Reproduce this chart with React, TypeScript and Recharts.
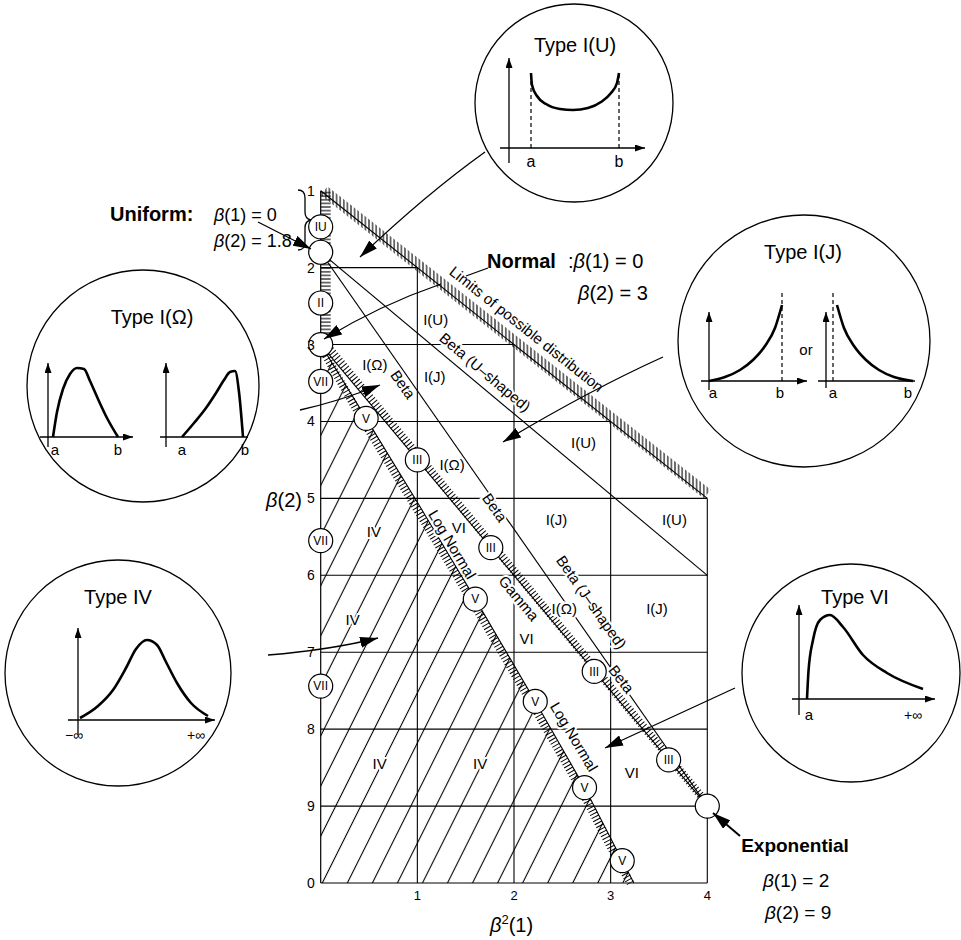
import React from 'react'
import {
  ComposedChart,
  LineChart,
  Line,
  Area,
  Scatter,
  XAxis,
  YAxis,
  ReferenceLine,
} from 'recharts'

const FONT = '"Liberation Sans", Arial, Helvetica, sans-serif'
const INK = '#000'

// β(2) runs 1..10 downwards, the last tick is printed as "0"
const yTicks = [1, 2, 3, 4, 5, 6, 7, 8, 9, 10]
const yTickLabels = ['1', '2', '3', '4', '5', '6', '7', '8', '9', '0']
const xTicks = [1, 2, 3, 4]
const gridRows = [2, 3, 4, 5, 6, 7, 8, 9]
const gridCols = [1, 2, 3, 4]

// boundary / transition lines in (β²(1), β(2))
const limitLine = [{ x: 0, y: 1 }, { x: 4, y: 5 }]
const uniformSpan = [{ x: 0, y: 1 }, { x: 0, y: 3 }]
const betaUShaped = [{ x: 0, y: 1.8 }, { x: 4, y: 6 }]
const betaJShaped = [{ x: 0, y: 1.8 }, { x: 4, y: 9 }]
const gammaLine = [{ x: 0, y: 3 }, { x: 4, y: 9 }]
const typeVLine = [
  { x: 0, y: 3 },
  { x: 0.47, y: 3.96 },
  { x: 1.0, y: 5.05 },
  { x: 1.6, y: 6.31 },
  { x: 2.22, y: 7.64 },
  { x: 2.73, y: 8.76 },
  { x: 3.12, y: 9.71 },
  { x: 3.24, y: 10 },
]

// named points on the axis and on the curves
const axisPoints = [
  { x: 0, y: 1.47, label: 'IU' },
  { x: 0, y: 1.8, label: '' },
  { x: 0, y: 2.46, label: 'II' },
  { x: 0, y: 3, label: '' },
]
const typeVIIPoints = [
  { x: 0, y: 3.48, label: 'VII' },
  { x: 0, y: 5.55, label: 'VII' },
  { x: 0, y: 7.44, label: 'VII' },
]
const typeVPoints = [
  { x: 0.47, y: 3.96, label: 'V' },
  { x: 1.6, y: 6.31, label: 'V' },
  { x: 2.22, y: 7.64, label: 'V' },
  { x: 2.73, y: 8.76, label: 'V' },
  { x: 3.12, y: 9.71, label: 'V' },
]
const typeIIIPoints = [
  { x: 1.0, y: 4.5, label: 'III' },
  { x: 1.76, y: 5.64, label: 'III' },
  { x: 2.83, y: 7.25, label: 'III' },
  { x: 3.6, y: 8.4, label: 'III' },
]
const exponentialPoint = [{ x: 4, y: 9, label: '' }]

const regionLabels = [
  { x: 1.19, y: 2.68, text: 'I(U)' },
  { x: 0.56, y: 3.26, text: 'I(Ω)' },
  { x: 1.18, y: 3.42, text: 'I(J)' },
  { x: 1.36, y: 4.56, text: 'I(Ω)' },
  { x: 2.72, y: 4.28, text: 'I(U)' },
  { x: 2.44, y: 5.28, text: 'I(J)' },
  { x: 3.66, y: 5.28, text: 'I(U)' },
  { x: 2.52, y: 6.44, text: 'I(Ω)' },
  { x: 3.48, y: 6.44, text: 'I(J)' },
  { x: 1.43, y: 5.38, text: 'VI' },
  { x: 2.13, y: 6.82, text: 'VI' },
  { x: 3.22, y: 8.57, text: 'VI' },
  { x: 0.55, y: 5.43, text: 'IV' },
  { x: 0.33, y: 6.58, text: 'IV' },
  { x: 0.61, y: 8.45, text: 'IV' },
  { x: 1.65, y: 8.45, text: 'IV' },
]

const lineLabels = [
  { x: 2.13, y: 2.8, text: 'Limits of possible distribution', angle: 38.5 },
  { x: 1.7, y: 3.36, text: 'Beta (U–shaped)', angle: 40 },
  { x: 0.85, y: 3.52, text: 'Beta', angle: 55 },
  { x: 1.8, y: 5.12, text: 'Beta', angle: 55 },
  { x: 2.8, y: 6.35, text: 'Beta (J–shaped)', angle: 55 },
  { x: 3.11, y: 7.35, text: 'Beta', angle: 52 },
  { x: 2.05, y: 6.3, text: 'Gamma', angle: 50 },
  { x: 1.36, y: 5.6, text: 'Log Normal', angle: 59 },
  { x: 2.62, y: 8.1, text: 'Log Normal', angle: 59 },
]

// small density sketches, axis crossing at (0,0)
const uCurve = [
  { x: 2.2, y: 7.5 }, { x: 2.3, y: 6.3 }, { x: 2.8, y: 5.2 }, { x: 3.7, y: 4.4 },
  { x: 5.1, y: 3.9 }, { x: 6.4, y: 3.8 }, { x: 7.9, y: 4.0 }, { x: 9.2, y: 4.6 },
  { x: 10.2, y: 5.5 }, { x: 10.8, y: 6.5 }, { x: 11.0, y: 7.5 },
]
const jRising = [
  { x: 0, y: 0 }, { x: 1.6, y: 0.4 }, { x: 3.1, y: 1.1 }, { x: 4.4, y: 2.1 },
  { x: 5.6, y: 3.5 }, { x: 6.6, y: 5.3 }, { x: 7.3, y: 7.6 },
]
const jFalling = [
  { x: 1.1, y: 7.6 }, { x: 1.8, y: 5.3 }, { x: 2.8, y: 3.5 }, { x: 4.0, y: 2.1 },
  { x: 5.3, y: 1.1 }, { x: 6.8, y: 0.4 }, { x: 8.7, y: 0 },
]
const omegaLeft = [
  { x: 0.5, y: 0 }, { x: 0.9, y: 2.5 }, { x: 1.5, y: 4.8 }, { x: 2.2, y: 6.3 },
  { x: 2.9, y: 6.9 }, { x: 3.6, y: 6.8 }, { x: 4.2, y: 5.6 }, { x: 5.0, y: 3.8 },
  { x: 5.9, y: 1.9 }, { x: 7.0, y: 0 },
]
const omegaRight = [
  { x: 1.6, y: 0 }, { x: 2.8, y: 1.4 }, { x: 4.0, y: 2.9 }, { x: 5.0, y: 4.4 },
  { x: 5.8, y: 5.7 }, { x: 6.4, y: 6.5 }, { x: 6.9, y: 6.6 }, { x: 7.3, y: 4.5 },
  { x: 7.7, y: 0 },
]
const bellCurve = [
  { x: 0.2, y: 0.2 }, { x: 2, y: 1.4 }, { x: 3.5, y: 3.0 }, { x: 4.8, y: 5.2 },
  { x: 5.8, y: 7.1 }, { x: 6.9, y: 8.0 }, { x: 7.9, y: 7.5 }, { x: 8.8, y: 5.8 },
  { x: 9.9, y: 3.7 }, { x: 11.3, y: 1.7 }, { x: 13.0, y: 0.4 },
]
const skewCurve = [
  { x: 0.8, y: 0 }, { x: 0.95, y: 2.8 }, { x: 1.4, y: 5.9 }, { x: 2.1, y: 7.9 },
  { x: 3.1, y: 8.4 }, { x: 4.4, y: 7.2 }, { x: 6.4, y: 4.4 }, { x: 8.8, y: 2.6 },
  { x: 12.4, y: 1.0 },
]

type Pt = { x: number; y: number }
type Plot = {
  ox: number
  oy: number
  xAxis: [number, number]
  yAxis: [number, number]
  xArrow: boolean
  curve: Pt[]
  guides: number[]
  guideTop: number
}

const insetPlots: Plot[] = [
  { ox: 509, oy: 148, xAxis: [-0.9, 13.6], yAxis: [-1.5, 9.0], xArrow: true, curve: uCurve, guides: [2.2, 11.0], guideTop: 7.5 },
  { ox: 709, oy: 381, xAxis: [-0.8, 9.8], yAxis: [-0.9, 6.9], xArrow: true, curve: jRising, guides: [7.3], guideTop: 9.1 },
  { ox: 826, oy: 381, xAxis: [-0.8, 8.9], yAxis: [-0.7, 6.9], xArrow: false, curve: jFalling, guides: [0.7], guideTop: 9.1 },
  { ox: 48, oy: 437, xAxis: [-0.8, 8.5], yAxis: [-1.0, 7.4], xArrow: true, curve: omegaLeft, guides: [], guideTop: 0 },
  { ox: 166, oy: 437, xAxis: [-0.6, 8.2], yAxis: [-1.0, 7.4], xArrow: false, curve: omegaRight, guides: [], guideTop: 0 },
  { ox: 78, oy: 720, xAxis: [-1.0, 13.7], yAxis: [-1.5, 9.2], xArrow: true, curve: bellCurve, guides: [], guideTop: 0 },
  { ox: 799, oy: 699, xAxis: [-0.7, 13.6], yAxis: [-1.6, 9.4], xArrow: true, curve: skewCurve, guides: [], guideTop: 0 },
]

const insetCircles = [
  { cx: 574, cy: 103, r: 99 },
  { cx: 804, cy: 341, r: 126 },
  { cx: 143, cy: 386, r: 116 },
  { cx: 118, cy: 673, r: 113 },
  { cx: 851, cy: 673, r: 109 },
]

const UNIT = 10 // px per sketch unit

function MiniPlot({ plot }: { plot: Plot }) {
  const xMin = plot.xAxis[0] - 0.3
  const xMax = plot.xAxis[1] + 0.3
  const yMin = plot.yAxis[0] - 0.3
  const yMax = Math.max(plot.yAxis[1], plot.guideTop, ...plot.curve.map((p) => p.y)) + 0.4
  const left = plot.ox + xMin * UNIT
  const top = plot.oy - yMax * UNIT
  const width = (xMax - xMin) * UNIT
  const height = (yMax - yMin) * UNIT
  return (
    <div style={{ position: 'absolute', left, top }}>
      <LineChart width={width} height={height} margin={{ top: 0, right: 0, bottom: 0, left: 0 }}>
        <XAxis type="number" dataKey="x" domain={[xMin, xMax]} hide allowDataOverflow />
        <YAxis type="number" dataKey="y" domain={[yMin, yMax]} hide allowDataOverflow />
        <ReferenceLine
          segment={[{ x: plot.xAxis[0], y: 0 }, { x: plot.xAxis[1], y: 0 }]}
          stroke={INK}
          strokeWidth={1.3}
          markerEnd={plot.xArrow ? 'url(#axisArrow)' : undefined}
        />
        <ReferenceLine
          segment={[{ x: 0, y: plot.yAxis[0] }, { x: 0, y: plot.yAxis[1] }]}
          stroke={INK}
          strokeWidth={1.3}
          markerEnd="url(#axisArrow)"
        />
        {plot.guides.map((g) => (
          <ReferenceLine
            key={g}
            segment={[{ x: g, y: 0 }, { x: g, y: plot.guideTop }]}
            stroke={INK}
            strokeWidth={1.2}
            strokeDasharray="4 3"
          />
        ))}
        <Line
          data={plot.curve}
          dataKey="y"
          type="monotone"
          stroke={INK}
          strokeWidth={2.6}
          dot={false}
          activeDot={false}
          isAnimationActive={false}
        />
      </LineChart>
    </div>
  )
}

// main plot geometry: 4 units across, 9 units down
const PLOT = { left: 320.7, top: 190.7, width: 386.6, height: 692.3 }
const PX_X = PLOT.width / 4
const PX_Y = PLOT.height / 9

const limitX = (y: number) =>
  limitLine[0].x + ((y - limitLine[0].y) * (limitLine[1].x - limitLine[0].x)) / (limitLine[1].y - limitLine[0].y)
const limitY = (x: number) =>
  limitLine[0].y + ((x - limitLine[0].x) * (limitLine[1].y - limitLine[0].y)) / (limitLine[1].x - limitLine[0].x)

// shift a line sideways by a few pixels (kept inside the axis domains)
const shifted = (data: Pt[], dx: number, dy: number) =>
  data.map((p) => ({
    x: Math.min(4, Math.max(0, p.x + dx / PX_X)),
    y: Math.min(10, Math.max(1, p.y + dy / PX_Y)),
  }))

const Badge = (props: any) => {
  const { cx, cy, payload } = props
  return (
    <g>
      <circle cx={cx} cy={cy} r={12} fill="#fff" stroke={INK} strokeWidth={1.2} />
      {payload.label ? (
        <text x={cx} y={cy} dy="0.36em" textAnchor="middle" fontSize={12} fontFamily={FONT} fill={INK}>
          {payload.label}
        </text>
      ) : null}
    </g>
  )
}

const LabelText = (props: any) => {
  const { cx, cy, payload } = props
  return (
    <text
      x={cx}
      y={cy}
      dy="0.35em"
      textAnchor="middle"
      fontSize={15}
      fontFamily={FONT}
      fill={INK}
      stroke="#fff"
      strokeWidth={4}
      paintOrder="stroke"
      transform={payload.angle ? `rotate(${payload.angle} ${cx} ${cy})` : undefined}
    >
      {payload.text}
    </text>
  )
}

// hatched edge: either a stroke painted with a stripe pattern or short dashes across the line
function hatchBand(key: string, data: Pt[], width: number, pattern?: string) {
  return (
    <Line
      key={key}
      data={data}
      dataKey="y"
      type="linear"
      stroke={pattern ? `url(#${pattern})` : INK}
      strokeWidth={width}
      strokeDasharray={pattern ? undefined : '1 2.4'}
      strokeLinecap="butt"
      dot={false}
      activeDot={false}
      isAnimationActive={false}
    />
  )
}

function plainLine(key: string, data: Pt[]) {
  return (
    <Line
      key={key}
      data={data}
      dataKey="y"
      type="linear"
      stroke={INK}
      strokeWidth={1.1}
      dot={false}
      activeDot={false}
      isAnimationActive={false}
    />
  )
}

function PearsonChart() {
  return (
    <ComposedChart
      width={961}
      height={940}
      margin={{ top: PLOT.top, right: 961 - PLOT.left - PLOT.width, bottom: 940 - PLOT.top - PLOT.height - 40, left: PLOT.left - 40 }}
    >
      <defs>
        <pattern id="ivHatch" patternUnits="userSpaceOnUse" width={22.4} height={10} patternTransform="rotate(26.57)">
          <line x1={11.2} y1={0} x2={11.2} y2={10} stroke={INK} strokeWidth={1.1} />
        </pattern>
        <pattern id="vStrokes" patternUnits="userSpaceOnUse" width={3.6} height={6}>
          <line x1={1.8} y1={0} x2={1.8} y2={6} stroke={INK} strokeWidth={1.1} />
        </pattern>
        <pattern id="hStrokes" patternUnits="userSpaceOnUse" width={6} height={3.6}>
          <line x1={0} y1={1.8} x2={6} y2={1.8} stroke={INK} strokeWidth={1.1} />
        </pattern>
      </defs>
      <XAxis
        type="number"
        dataKey="x"
        domain={[0, 4]}
        ticks={xTicks}
        interval={0}
        height={40}
        axisLine={{ stroke: INK, strokeWidth: 1.2 }}
        tickLine={false}
        tick={{ fill: INK, fontSize: 13, fontFamily: FONT }}
      />
      <YAxis
        type="number"
        dataKey="y"
        domain={[1, 10]}
        reversed
        ticks={yTicks}
        interval={0}
        width={40}
        tickMargin={0}
        tickFormatter={(v: number) => yTickLabels[yTicks.indexOf(v)]}
        axisLine={{ stroke: INK, strokeWidth: 1.2 }}
        tickLine={false}
        tick={{ fill: INK, fontSize: 14, fontFamily: FONT }}
      />
      <Area
        data={typeVLine}
        dataKey="y"
        type="linear"
        baseValue={10}
        fill="url(#ivHatch)"
        fillOpacity={1}
        stroke="none"
        dot={false}
        activeDot={false}
        isAnimationActive={false}
      />
      {gridRows.map((y) => (
        <ReferenceLine
          key={`r${y}`}
          segment={[{ x: 0, y }, { x: Math.min(4, limitX(y)), y }]}
          stroke={INK}
          strokeWidth={1.1}
        />
      ))}
      {gridCols.map((x) => (
        <ReferenceLine
          key={`c${x}`}
          segment={[{ x, y: limitY(x) }, { x, y: 10 }]}
          stroke={INK}
          strokeWidth={1.1}
        />
      ))}
      {hatchBand('limitHatch', shifted(limitLine, 3.4, -4.3), 11, 'vStrokes')}
      {hatchBand('axisHatch', shifted(uniformSpan, 5, 0), 10, 'hStrokes')}
      {hatchBand('gammaHatch', shifted(gammaLine, 3.1, -2.6), 8)}
      {hatchBand('vHatch', shifted(typeVLine, -3.4, 2.1), 8)}
      {plainLine('limit', limitLine)}
      {plainLine('betaU', betaUShaped)}
      {plainLine('betaJ', betaJShaped)}
      {plainLine('gamma', gammaLine)}
      {plainLine('typeV', typeVLine)}
      <Scatter data={regionLabels} shape={LabelText} isAnimationActive={false} />
      <Scatter data={lineLabels} shape={LabelText} isAnimationActive={false} />
      <Scatter data={axisPoints} shape={Badge} isAnimationActive={false} />
      <Scatter data={typeVIIPoints} shape={Badge} isAnimationActive={false} />
      <Scatter data={typeVPoints} shape={Badge} isAnimationActive={false} />
      <Scatter data={typeIIIPoints} shape={Badge} isAnimationActive={false} />
      <Scatter data={exponentialPoint} shape={Badge} isAnimationActive={false} />
    </ComposedChart>
  )
}

const B = () => <tspan fontStyle="italic">β</tspan>

function Annotations() {
  const t = { fontFamily: FONT, fill: INK }
  return (
    <svg
      width={961}
      height={940}
      style={{ position: 'absolute', left: 0, top: 0, pointerEvents: 'none' }}
    >
      <defs>
        <marker id="bigArrow" markerUnits="userSpaceOnUse" markerWidth={18} markerHeight={11} refX={18} refY={5.5} orient="auto">
          <path d="M0,0 L18,5.5 L0,11 Z" fill={INK} />
        </marker>
        <marker id="axisArrow" markerUnits="userSpaceOnUse" markerWidth={10} markerHeight={7} refX={10} refY={3.5} orient="auto">
          <path d="M0,0 L10,3.5 L0,7 Z" fill={INK} />
        </marker>
      </defs>

      {insetCircles.map((c, i) => (
        <circle key={i} cx={c.cx} cy={c.cy} r={c.r} fill="none" stroke={INK} strokeWidth={1.3} />
      ))}

      {/* pointers from the notes and sketches into the diagram */}
      <g fill="none" stroke={INK} strokeWidth={1.3}>
        <path d="M258,222 L311,249" markerEnd="url(#bigArrow)" />
        <path d="M485,152 Q425,195 360,257" markerEnd="url(#bigArrow)" />
        <path d="M488,268 L466,276" />
        <path d="M441,284 Q380,305 324,339" markerEnd="url(#bigArrow)" />
        <path d="M300,410 Q340,401 380,385" markerEnd="url(#bigArrow)" />
        <path d="M663,357 Q590,390 503,442" markerEnd="url(#bigArrow)" />
        <path d="M268,655 Q330,650 378,638" markerEnd="url(#bigArrow)" />
        <path d="M735,688 Q670,718 605,748" markerEnd="url(#bigArrow)" />
        <path d="M740,836 L713,813" strokeWidth={2} markerEnd="url(#bigArrow)" />
        <path d="M298,190 Q305,190 305,198 L305,212 Q305,219 311,220 Q305,221 305,228 L305,242 Q305,250 298,250" />
      </g>

      {/* notes */}
      <text x={110} y={221} fontSize={20} fontWeight="bold" {...t}>Uniform:</text>
      <text x={214} y={221} fontSize={18} {...t}><B />(1) = 0</text>
      <text x={214} y={247} fontSize={18} {...t}><B />(2) = 1.8</text>

      <text x={487} y={268} fontSize={20} fontWeight="bold" {...t}>Normal</text>
      <text x={568} y={268} fontSize={20} {...t}>:<B />(1) = 0</text>
      <text x={578} y={300} fontSize={20} {...t}><B />(2) = 3</text>

      <text x={795} y={852} fontSize={19} fontWeight="bold" textAnchor="middle" {...t}>Exponential</text>
      <text x={763} y={887} fontSize={19} {...t}><B />(1) = 2</text>
      <text x={765} y={919} fontSize={19} {...t}><B />(2) = 9</text>

      {/* axis titles */}
      <text x={302} y={507} fontSize={20} textAnchor="end" {...t}><B />(2)</text>
      <text x={490} y={932} fontSize={20} {...t}>
        <B />
        <tspan dy={-8} fontSize={13}>2</tspan>
        <tspan dy={8}>(1)</tspan>
      </text>

      {/* sketch titles and marks */}
      <text x={575} y={52} fontSize={20} textAnchor="middle" {...t}>Type I(U)</text>
      <text x={531} y={167} fontSize={16} textAnchor="middle" {...t}>a</text>
      <text x={619} y={167} fontSize={16} textAnchor="middle" {...t}>b</text>

      <text x={803} y={259} fontSize={20} textAnchor="middle" {...t}>Type I(J)</text>
      <text x={713} y={398} fontSize={15} textAnchor="middle" {...t}>a</text>
      <text x={780} y={398} fontSize={15} textAnchor="middle" {...t}>b</text>
      <text x={806} y={355} fontSize={15} textAnchor="middle" {...t}>or</text>
      <text x={833} y={398} fontSize={15} textAnchor="middle" {...t}>a</text>
      <text x={908} y={398} fontSize={15} textAnchor="middle" {...t}>b</text>

      <text x={152} y={324} fontSize={20} textAnchor="middle" {...t}>Type I(Ω)</text>
      <text x={55} y={455} fontSize={15} textAnchor="middle" {...t}>a</text>
      <text x={118} y={455} fontSize={15} textAnchor="middle" {...t}>b</text>
      <text x={182} y={455} fontSize={15} textAnchor="middle" {...t}>a</text>
      <text x={245} y={455} fontSize={15} textAnchor="middle" {...t}>b</text>

      <text x={118} y={604} fontSize={20} textAnchor="middle" {...t}>Type IV</text>
      <text x={74} y={740} fontSize={14} textAnchor="middle" {...t}>−∞</text>
      <text x={196} y={740} fontSize={14} textAnchor="middle" {...t}>+∞</text>

      <text x={855} y={604} fontSize={20} textAnchor="middle" {...t}>Type VI</text>
      <text x={809} y={720} fontSize={15} textAnchor="middle" {...t}>a</text>
      <text x={913} y={720} fontSize={14} textAnchor="middle" {...t}>+∞</text>
    </svg>
  )
}

export default function App() {
  return (
    <div style={{ position: 'absolute', left: 0, top: 0, width: 961, height: 940, background: '#fff' }}>
      <div style={{ position: 'absolute', left: 0, top: 0 }}>
        <PearsonChart />
      </div>
      {insetPlots.map((p, i) => (
        <MiniPlot key={i} plot={p} />
      ))}
      <Annotations />
    </div>
  )
}
